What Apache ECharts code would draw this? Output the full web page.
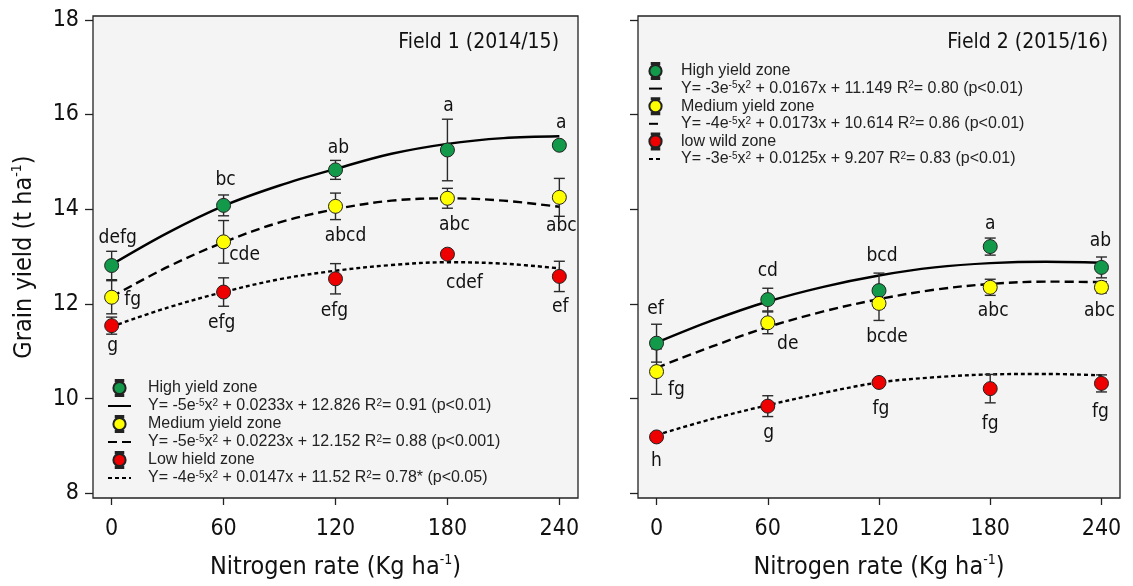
<!DOCTYPE html>
<html><head><meta charset="utf-8">
<script src="https://cdn.jsdelivr.net/npm/echarts@6/dist/echarts.min.js"></script>
<style>html,body{margin:0;padding:0;background:#fff}#c{width:1133px;height:586px}</style>
</head><body><div id="c"></div>
<script>
// ---------- data ----------
const nRates = [0, 60, 120, 180, 240];
const fitX = [0, 30, 60, 90, 120, 150, 180, 210, 240];
const xTicks = [0, 60, 120, 180, 240];
const yTicks = [8, 10, 12, 14, 16, 18];

// Field 1 (2014/15)
const f1High = [12.81, 14.08, 14.83, 15.25, 15.35];
const f1HighErr = [0.30, 0.22, 0.20, 0.65, 0.05];
const f1HighLetters = ['defg', 'bc', 'ab', 'a', 'a'];
const f1Med = [12.14, 13.31, 14.06, 14.23, 14.25];
const f1MedErr = [0.35, 0.45, 0.28, 0.21, 0.40];
const f1MedLetters = ['fg', 'cde', 'abcd', 'abc', 'abc'];
const f1Low = [11.54, 12.25, 12.53, 13.05, 12.58];
const f1LowErr = [0.18, 0.30, 0.32, 0.08, 0.32];
const f1LowLetters = ['g', 'efg', 'efg', 'cdef', 'ef'];
const f1FitHigh = [12.83, 13.50, 14.07, 14.50, 14.85, 15.17, 15.38, 15.50, 15.54];
const f1FitMed = [12.15, 12.78, 13.30, 13.72, 14.00, 14.18, 14.23, 14.18, 14.05];
const f1FitLow = [11.52, 11.92, 12.25, 12.52, 12.70, 12.82, 12.88, 12.85, 12.75];

// Field 2 (2015/16)
const f2High = [11.17, 12.09, 12.28, 13.21, 12.77];
const f2HighErr = [0.40, 0.24, 0.37, 0.18, 0.22];
const f2HighLetters = ['ef', 'cd', 'bcd', 'a', 'ab'];
const f2Med = [10.57, 11.60, 12.01, 12.35, 12.35];
const f2MedErr = [0.48, 0.23, 0.36, 0.17, 0.12];
const f2MedLetters = ['fg', 'de', 'bcde', 'abc', 'abc'];
const f2Low = [9.19, 9.84, 10.34, 10.21, 10.32];
const f2LowErr = [0.05, 0.22, 0.08, 0.30, 0.18];
const f2LowLetters = ['h', 'g', 'fg', 'fg', 'fg'];
const f2FitHigh = [11.18, 11.65, 12.05, 12.36, 12.60, 12.77, 12.86, 12.89, 12.87];
const f2FitMed = [10.65, 11.10, 11.51, 11.84, 12.10, 12.30, 12.42, 12.47, 12.46];
const f2FitLow = [9.23, 9.57, 9.86, 10.12, 10.34, 10.45, 10.51, 10.52, 10.49];

// legend texts
const f1Names = ['High yield zone', 'Y= -5e{s|-5}x{s|2} + 0.0233x + 12.826 R{s|2}= 0.91 (p<0.01)',
  'Medium yield zone', 'Y= -5e{s|-5}x{s|2} + 0.0223x + 12.152 R{s|2}= 0.88 (p<0.001)',
  'Low hield zone', 'Y= -4e{s|-5}x{s|2} + 0.0147x + 11.52 R{s|2}= 0.78* (p<0.05)'];
const f2Names = ['High yield zone', 'Y= -3e{s|-5}x{s|2} + 0.0167x + 11.149 R{s|2}= 0.80 (p<0.01)',
  'Medium yield zone', 'Y= -4e{s|-5}x{s|2} + 0.0173x + 10.614 R{s|2}= 0.86 (p<0.01)',
  'low wild zone', 'Y= -3e{s|-5}x{s|2} + 0.0125x + 9.207 R{s|2}= 0.83 (p<0.01)'];

// ---------- styling (label offsets in px, not data) ----------
const f1Off = {
  high: [[6,-27],[2,-25],[3,-22],[1,-44],[2,-22]],
  med:  [[21,3],[21,13],[10,30],[7,27],[2,29]],
  low:  [[1,20],[-2,31],[-1,32],[17,29],[1,31]]
};
const f2Off = {
  high: [[-1,-34],[0,-29],[3,-35],[0,-23],[-1,-26]],
  med:  [[20,18],[20,21],[8,34],[3,24],[-2,24]],
  low:  [[0,24],[1,27],[2,27],[0,35],[-1,29]]
};
const GREEN = '#129a4a', YELLOW = '#ffff00', RED = '#ee0000';
const AXF = "'DejaVu Sans Condensed', 'DejaVu Sans', sans-serif";
const LEGF = "'Liberation Sans', Arial, sans-serif";
const beam = 'path://M3,0H11V1.2H3Z M6.4,1.2H7.6V2.2H6.4Z M0.5,8.5A6.5,6.5 0 1 0 13.5,8.5A6.5,6.5 0 1 0 0.5,8.5Z M6.4,14.8H7.6V15.8H6.4Z M3,15.8H11V17H3Z';

function errRender(params, api) {
  const x = api.value(0), y = api.value(1), e = api.value(2);
  const t = api.coord([x, y + e]), b = api.coord([x, y - e]);
  const hw = 5.5, st = {stroke: '#2a2a2a', lineWidth: 1.4};
  return {type: 'group', children: [
    {type: 'line', shape: {x1: t[0], y1: t[1], x2: b[0], y2: b[1]}, style: st},
    {type: 'line', shape: {x1: t[0]-hw, y1: t[1], x2: t[0]+hw, y2: t[1]}, style: st},
    {type: 'line', shape: {x1: b[0]-hw, y1: b[1], x2: b[0]+hw, y2: b[1]}, style: st}
  ]};
}

function zoneSeries(g, name, vals, errs, letters, offs, fit, fitName, color, dash) {
  return [
    {type: 'line', name: fitName, xAxisIndex: g, yAxisIndex: g, smooth: 0.35, symbol: 'none', z: 2,
     lineStyle: {color: '#000', width: 2.4, type: dash}, itemStyle: {color: '#000'},
     data: fitX.map((x, i) => [x, fit[i]])},
    {type: 'custom', name: 'err' + g + name, xAxisIndex: g, yAxisIndex: g, z: 3,
     renderItem: errRender, encode: {x: 0, y: 1},
     data: nRates.map((x, i) => [x, vals[i], errs[i]])},
    {type: 'scatter', name: name, xAxisIndex: g, yAxisIndex: g, z: 4, symbolSize: 14,
     itemStyle: {color: color, borderColor: '#222', borderWidth: 1, opacity: 1},
     label: {show: true, position: 'inside', color: '#111', fontSize: 19, fontFamily: AXF,
       formatter: p => letters[p.dataIndex]},
     data: nRates.map((x, i) => ({value: [x, vals[i]], label: {offset: offs[i]}}))}
  ];
}

const series = [].concat(
  zoneSeries(0, f1Names[0], f1High, f1HighErr, f1HighLetters, f1Off.high, f1FitHigh, f1Names[1], GREEN, 'solid'),
  zoneSeries(0, f1Names[2], f1Med, f1MedErr, f1MedLetters, f1Off.med, f1FitMed, f1Names[3], YELLOW, [9, 5]),
  zoneSeries(0, f1Names[4], f1Low, f1LowErr, f1LowLetters, f1Off.low, f1FitLow, f1Names[5], RED, [4, 3]),
  zoneSeries(1, f2Names[0], f2High, f2HighErr, f2HighLetters, f2Off.high, f2FitHigh, f2Names[1], GREEN, 'solid'),
  zoneSeries(1, f2Names[2], f2Med, f2MedErr, f2MedLetters, f2Off.med, f2FitMed, f2Names[3], YELLOW, [9, 5]),
  zoneSeries(1, f2Names[4], f2Low, f2LowErr, f2LowLetters, f2Off.low, f2FitLow, f2Names[5], RED, [4, 3])
);

const sup = {fontSize: 10, verticalAlign: 'top', lineHeight: 10, fontFamily: LEGF, color: '#222'};
function legendFor(names, left, top, iw, pad, gap) {
  return {
    orient: 'vertical', left: left, top: top, itemWidth: iw, itemHeight: 16, itemGap: gap,
    selectedMode: false, padding: 0,
    data: names.map((n, i) => i % 2 === 0 ? {name: n, icon: beam}
      : {name: n, itemStyle: {opacity: 0, borderWidth: 0}}),
    formatter: n => n,
    textStyle: {fontFamily: LEGF, fontSize: 16, color: '#222', lineHeight: 16, padding: [0, 0, 0, pad], rich: {s: sup}}
  };
}

function xAx(g) {
  return {gridIndex: g, type: 'value', min: -10, max: 250,
    axisLine: {show: false, onZero: false}, splitLine: {show: false},
    axisTick: {show: true, customValues: xTicks, length: 7, lineStyle: {color: '#222', width: 1.3}},
    axisLabel: {customValues: xTicks, margin: 20, fontSize: 23, fontFamily: AXF, color: '#111'},
    name: 'Nitrogen rate (Kg ha{s|-1})', nameLocation: 'middle', nameGap: 55,
    nameTextStyle: {fontSize: 25, fontFamily: AXF, color: '#111', lineHeight: 28,
      rich: {s: {fontSize: 14, verticalAlign: 'top', lineHeight: 14, fontFamily: AXF, color: '#111'}}}};
}
function yAx(g, labels) {
  const a = {gridIndex: g, type: 'value', min: 7.9, max: 18.08,
    axisLine: {show: false, onZero: false}, splitLine: {show: false},
    axisTick: {show: true, customValues: yTicks, length: 8, lineStyle: {color: '#222', width: 1.3}},
    axisLabel: {show: labels, customValues: yTicks, margin: 14, fontSize: 23, fontFamily: AXF, color: '#111'}};
  if (labels) {
    a.name = 'Grain yield (t ha{s|-1})'; a.nameLocation = 'middle'; a.nameGap = 55;
    a.nameTextStyle = {fontSize: 25, fontFamily: AXF, color: '#111', lineHeight: 28,
      rich: {s: {fontSize: 14, verticalAlign: 'top', lineHeight: 14, fontFamily: AXF, color: '#111'}}};
  }
  return a;
}

const option = {
  animation: false,
  backgroundColor: '#fff',
  title: [
    {text: 'Field 1 (2014/15)', right: 574, top: 32, padding: 0,
     textStyle: {fontFamily: AXF, fontSize: 21, fontWeight: 'normal', color: '#111'}},
    {text: 'Field 2 (2015/16)', right: 25, top: 32, padding: 0,
     textStyle: {fontFamily: AXF, fontSize: 21, fontWeight: 'normal', color: '#111'}}
  ],
  legend: [legendFor(f1Names, 107, 379, 23, 12, 1), legendFor(f2Names, 648, 62, 13, 14, 0.6)],
  grid: [
    {left: 93, right: 555, top: 16, bottom: 86, show: true, backgroundColor: '#f4f4f4', borderColor: '#222', borderWidth: 1.3},
    {left: 638, right: 13, top: 16, bottom: 86, show: true, backgroundColor: '#f4f4f4', borderColor: '#222', borderWidth: 1.3}
  ],
  xAxis: [xAx(0), xAx(1)],
  yAxis: [yAx(0, true), yAx(1, false)],
  series: series
};
const chart = echarts.init(document.getElementById('c'), null, {renderer: 'canvas'});
chart.setOption(option);
</script></body></html>
